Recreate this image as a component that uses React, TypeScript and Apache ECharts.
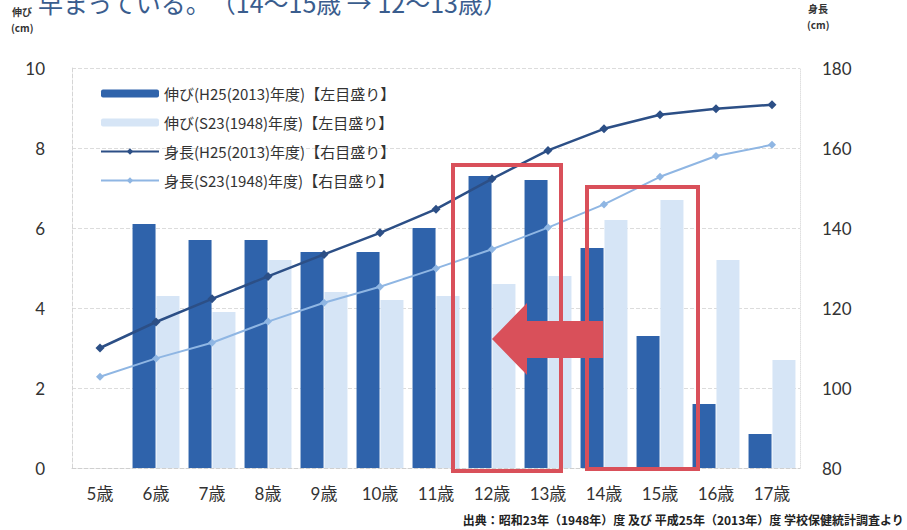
import React, { useEffect, useRef } from "react";
import * as echarts from "echarts";

const categories = ["5歳", "6歳", "7歳", "8歳", "9歳", "10歳", "11歳", "12歳", "13歳", "14歳", "15歳", "16歳", "17歳"];
const growth2013 = [null, 6.1, 5.7, 5.7, 5.4, 5.4, 6.0, 7.3, 7.2, 5.5, 3.3, 1.6, 0.85];
const growth1948 = [null, 4.3, 3.9, 5.2, 4.4, 4.2, 4.3, 4.6, 4.8, 6.2, 6.7, 5.2, 2.7];
const height2013 = [110.0, 116.5, 122.3, 127.9, 133.4, 138.8, 144.7, 152.3, 159.4, 164.8, 168.3, 169.8, 170.8];
const height1948 = [102.8, 107.4, 111.3, 116.6, 121.3, 125.3, 129.9, 134.7, 140.1, 145.9, 152.8, 158.0, 160.8];
const leftTicks = { min: 0, max: 10, interval: 2 };
const rightTicks = { min: 80, max: 180, interval: 20 };
const seriesNames = [
  "伸び(H25(2013)年度)【左目盛り】",
  "伸び(S23(1948)年度)【左目盛り】",
  "身長(H25(2013)年度)【右目盛り】",
  "身長(S23(1948)年度)【右目盛り】",
];
const titleText = "早まっている。　（14〜15歳 → 12〜13歳）";
const sourceText = "出典：昭和23年（1948年）度 及び 平成25年（2013年）度 学校保健統計調査より";

const DARK_BAR = "#2f63ab";
const LIGHT_BAR = "#d6e5f6";
const DARK_LINE = "#2c4f86";
const LIGHT_LINE = "#8fb6e3";
const RED = "#d9505a";
const FONT = 'Lato, "Noto Sans CJK JP", sans-serif';
const CJK = '"Noto Sans CJK JP", sans-serif';

export default function App() {
  const ref = useRef<HTMLDivElement>(null);
  useEffect(() => {
    if (!ref.current) return;
    const chart = echarts.init(ref.current, null, { renderer: "svg" });
    chart.setOption({
      animation: false,
      backgroundColor: "#ffffff",
      grid: { left: 72, right: 107, top: 68, bottom: 62, containLabel: false },
      legend: {
        orient: "vertical",
        left: 95,
        top: 79,
        itemWidth: 58,
        itemHeight: 8,
        itemGap: 10,
        data: seriesNames,
        textStyle: { fontSize: 15, color: "#333", fontFamily: CJK, lineHeight: 19 },
      },
      xAxis: {
        type: "category",
        data: categories,
        boundaryGap: true,
        axisLine: { show: true, lineStyle: { color: "#cfcfcf", type: "dashed" } },
        axisTick: { show: false },
        axisLabel: { fontSize: 17, color: "#333", fontFamily: FONT, margin: 17 },
      },
      yAxis: [
        {
          type: "value",
          ...leftTicks,
          position: "left",
          axisLine: { show: true, lineStyle: { color: "#d5d5d5", type: "dashed" } },
          axisTick: { show: false },
          axisLabel: { fontSize: 17, color: "#333", fontFamily: FONT, margin: 27 },
          splitLine: { show: true, lineStyle: { color: "#dcdcdc", type: "dashed" } },
        },
        {
          type: "value",
          ...rightTicks,
          position: "right",
          axisLine: { show: true, lineStyle: { color: "#e0e0e0", type: "dotted" } },
          axisTick: { show: false },
          axisLabel: { fontSize: 17, color: "#333", fontFamily: FONT, margin: 22 },
          splitLine: { show: false },
        },
      ],
      series: [
        {
          name: seriesNames[0],
          type: "bar",
          yAxisIndex: 0,
          data: growth2013,
          barWidth: 23,
          barGap: "4%",
          itemStyle: { color: DARK_BAR },
          z: 2,
        },
        {
          name: seriesNames[1],
          type: "bar",
          yAxisIndex: 0,
          data: growth1948,
          barWidth: 23,
          barGap: "4%",
          itemStyle: { color: LIGHT_BAR },
          z: 2,
        },
        {
          name: seriesNames[2],
          type: "line",
          yAxisIndex: 1,
          data: height2013,
          symbol: "diamond",
          symbolSize: 9,
          lineStyle: { color: DARK_LINE, width: 2.5 },
          itemStyle: { color: DARK_LINE },
          z: 4,
        },
        {
          name: seriesNames[3],
          type: "line",
          yAxisIndex: 1,
          data: height1948,
          symbol: "diamond",
          symbolSize: 8,
          lineStyle: { color: LIGHT_LINE, width: 2 },
          itemStyle: { color: LIGHT_LINE },
          z: 3,
        },
      ],
      graphic: [
        {
          type: "text",
          left: 38,
          top: -11,
          style: { text: titleText, font: `25px ${CJK}`, fill: "#3a5d8e" },
          z: 10,
        },
        {
          type: "text",
          left: 12,
          top: 6,
          style: { text: "伸び", font: `bold 10px ${CJK}`, fill: "#333" },
        },
        {
          type: "text",
          left: 11,
          top: 22,
          style: { text: "(cm)", font: `bold 10px ${CJK}`, fill: "#333" },
        },
        {
          type: "text",
          left: 808,
          top: 3,
          style: { text: "身長", font: `bold 10px ${CJK}`, fill: "#333" },
        },
        {
          type: "text",
          left: 807,
          top: 19,
          style: { text: "(cm)", font: `bold 10px ${CJK}`, fill: "#333" },
        },
        {
          type: "text",
          right: 3,
          top: 513,
          style: { text: sourceText, font: `bold 12px ${CJK}`, fill: "#222" },
        },
        {
          type: "rect",
          shape: { x: 453, y: 165, width: 108, height: 306 },
          style: { fill: "none", stroke: RED, lineWidth: 4 },
          z: 20,
        },
        {
          type: "rect",
          shape: { x: 587, y: 187, width: 111, height: 282 },
          style: { fill: "none", stroke: RED, lineWidth: 4 },
          z: 20,
        },
        {
          type: "polygon",
          shape: {
            points: [
              [492, 339],
              [527, 303],
              [527, 321],
              [603, 321],
              [603, 358],
              [527, 358],
              [527, 375],
            ],
          },
          style: { fill: RED },
          z: 21,
        },
      ],
    });
    return () => chart.dispose();
  }, []);
  return (
    <div
      ref={ref}
      style={{ position: "fixed", left: 0, top: 0, width: 907, height: 530, background: "#fff" }}
    />
  );
}
